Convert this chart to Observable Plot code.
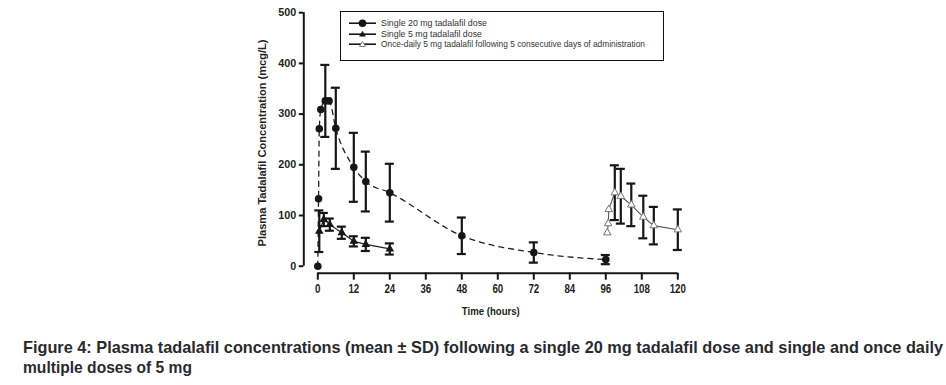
<!DOCTYPE html>
<html>
<head>
<meta charset="utf-8">
<script src="https://cdn.jsdelivr.net/npm/d3@7"></script>
<script src="https://cdn.jsdelivr.net/npm/@observablehq/plot@0.6"></script>
<style>
  html, body { margin: 0; padding: 0; background: #fff; }
  #wrap { position: relative; width: 946px; height: 385px; overflow: hidden; }
  #legend { position: absolute; left: 340px; top: 11px; width: 324px; height: 50px; box-sizing: border-box; border: 1.8px solid #111; background: #fff; }
  #legend svg { position: absolute; left: 0; top: 0; }
  #caption { position: absolute; left: 0; top: 325px; }
</style>
</head>
<body>
<div id="wrap">
  <div id="chart"></div>
  <div id="legend"></div>
  <svg id="caption" width="946" height="60"></svg>
</div>
<script>
// ---- data ----
const seriesNames = [
  "Single 20 mg tadalafil dose",
  "Single 5 mg tadalafil dose",
  "Once-daily 5 mg tadalafil following 5 consecutive days of administration"
];
// Single 20 mg dose
const t20    = [0, 0.25, 0.5, 1, 2.5, 3.75, 6, 12, 16, 24, 48, 72, 96];
const mean20 = [0, 133, 271, 309, 326, 326, 272, 195, 167, 145, 60, 27, 13];
const sd20   = [0, 0, 0, 0, 71, 0, 80, 68, 59, 57, 36, 20, 9];
// Single 5 mg dose
const t5     = [0.5, 2, 4, 8, 12, 16, 24];
const mean5  = [69, 92, 82, 66, 49, 43, 34];
const sd5    = [41, 13, 12, 12, 10, 13, 11];
// Once-daily 5 mg (after 5 days)
const tOD    = [96.5, 96.8, 97, 99, 101, 104.5, 108.5, 112, 120];
const meanOD = [66, 84, 112, 145, 138, 121, 97, 80, 72];
const sdOD   = [0, 0, 0, 54, 54, 42, 42, 37, 40];
// axes
const xTicks = [0, 12, 24, 36, 48, 60, 72, 84, 96, 108, 120];
const yTicks = [0, 100, 200, 300, 400, 500];
const xLabel = "Time (hours)";
const yLabel = "Plasma Tadalafil Concentration (mcg/L)";
const captionLines = [
  "Figure 4: Plasma tadalafil concentrations (mean \u00B1 SD) following a single 20 mg tadalafil dose and single and once daily",
  "multiple doses of 5 mg"
];

// ---- build tables ----
const mk = (ts, ms, ss) => ts.map((t, i) => ({t, m: ms[i], sd: ss[i]}));
const rows20 = mk(t20, mean20, sd20);
const rows5 = mk(t5, mean5, sd5);
const rowsOD = mk(tOD, meanOD, sdOD);
const errs = [...rows20, ...rows5, ...rowsOD].filter(d => d.sd > 0);
const capHalf = 1.5; // hours

const ink = "#161616";
const font = "'Liberation Sans', Arial, sans-serif";

const chart = Plot.plot({
  width: 946,
  height: 325,
  marginLeft: 303.3,
  marginRight: 268.7,
  marginTop: 12.2,
  marginBottom: 52.3,
  style: {fontFamily: font, color: "#231f20", background: "#fff"},
  x: {domain: [0, 120], insetLeft: 14},
  y: {domain: [0, 500], insetBottom: 7},
  marks: [
    // axis lines
    Plot.ruleX([0], {y1: 0, y2: 500, dx: -14, stroke: ink, strokeWidth: 2}),
    Plot.ruleY([0], {x1: 0, x2: 120, dy: 7, stroke: ink, strokeWidth: 2}),
    Plot.axisY({ticks: yTicks, tickSize: 4.5, tickPadding: 3, stroke: ink, strokeWidth: 2,
      fontSize: 10.5, fontWeight: "bold", fill: "#231f20",
      label: yLabel, labelAnchor: "center", labelOffset: 46, labelArrow: false}),
    Plot.axisX({ticks: xTicks, tickSize: 7, tickPadding: 4, stroke: ink, strokeWidth: 2,
      fontSize: 12.5, fontWeight: "bold", fill: "#231f20",
      label: xLabel, labelAnchor: "center", labelOffset: 42, labelArrow: false}),
    // lines
    Plot.line(rows20, {x: "t", y: "m", curve: "monotone-x", stroke: "#222", strokeWidth: 1.3, strokeDasharray: "5,5"}),
    Plot.line(rows5, {x: "t", y: "m", stroke: "#222", strokeWidth: 1.2}),
    Plot.line(rowsOD, {x: "t", y: "m", stroke: "#555", strokeWidth: 1.1}),
    // error bars
    Plot.ruleX(errs, {x: "t", y1: d => d.m - d.sd, y2: d => d.m + d.sd, stroke: ink, strokeWidth: 2.2}),
    Plot.ruleY(errs, {y: d => d.m + d.sd, x1: d => d.t - capHalf, x2: d => d.t + capHalf, stroke: ink, strokeWidth: 2.2}),
    Plot.ruleY(errs, {y: d => d.m - d.sd, x1: d => d.t - capHalf, x2: d => d.t + capHalf, stroke: ink, strokeWidth: 2.2}),
    // markers
    Plot.dot(rows20, {x: "t", y: "m", r: 3.8, fill: ink, stroke: "none"}),
    Plot.dot(rows5, {x: "t", y: "m", symbol: "triangle", r: 3.2, fill: ink, stroke: "none"}),
    Plot.dot(rowsOD, {x: "t", y: "m", symbol: "triangle", r: 2.8, fill: "#fff", stroke: "#777", strokeWidth: 1})
  ]
});
document.getElementById("chart").appendChild(chart);

// condense axis texts (the reference uses a condensed bold face)
const svgSel = d3.select(chart);
const squeeze = (sel, perChar) => sel.each(function () {
  const n = this.textContent.length;
  d3.select(this).attr("textLength", n * perChar).attr("lengthAdjust", "spacingAndGlyphs");
});
squeeze(svgSel.selectAll('g[aria-label="x-axis tick label"] text'), 5.4);
squeeze(svgSel.selectAll('g[aria-label="y-axis tick label"] text'), 6);
svgSel.selectAll('g[aria-label="x-axis label"] text').attr("font-size", 11.5).attr("textLength", 58).attr("lengthAdjust", "spacingAndGlyphs");
svgSel.selectAll('g[aria-label="y-axis label"] text').attr("font-size", 11.5).attr("textLength", 207).attr("lengthAdjust", "spacingAndGlyphs");

// ---- legend ----
const lg = d3.select("#legend").append("svg").attr("width", 322).attr("height", 48);
const rowY = [11.2, 22.2, 32.2];
const textW = [106, 101, 264];
seriesNames.forEach((name, i) => {
  const g = lg.append("g").attr("transform", `translate(0,${rowY[i]})`);
  g.append("line").attr("x1", 8).attr("x2", 35).attr("stroke", "#161616").attr("stroke-width", 1.6);
  if (i === 0) g.append("circle").attr("cx", 21.5).attr("r", 3.8).attr("fill", "#161616");
  else if (i === 1) g.append("path").attr("d", "M21.5,-3.4 L24.9,2.4 L18.1,2.4 Z").attr("fill", "#161616");
  else g.append("path").attr("d", "M21.5,-2.8 L24.5,2.3 L18.5,2.3 Z").attr("fill", "#fff").attr("stroke", "#777").attr("stroke-width", 0.9);
  g.append("text")
    .attr("x", 40).attr("y", 3.2)
    .attr("font-family", font).attr("font-size", 8.4).attr("fill", "#333")
    .attr("textLength", textW[i]).attr("lengthAdjust", "spacingAndGlyphs")
    .text(name);
});

// ---- caption ----
const cap = d3.select("#caption");
const capW = [920, 169];
captionLines.forEach((line, i) => {
  cap.append("text")
    .attr("x", 23)
    .attr("y", 28.3 + i * 20)
    .attr("font-family", font)
    .attr("font-weight", "bold")
    .attr("font-size", 16.1)
    .attr("fill", "#2a2a2e")
    .attr("textLength", capW[i]).attr("lengthAdjust", "spacingAndGlyphs")
    .text(line);
});
</script>
</body>
</html>
